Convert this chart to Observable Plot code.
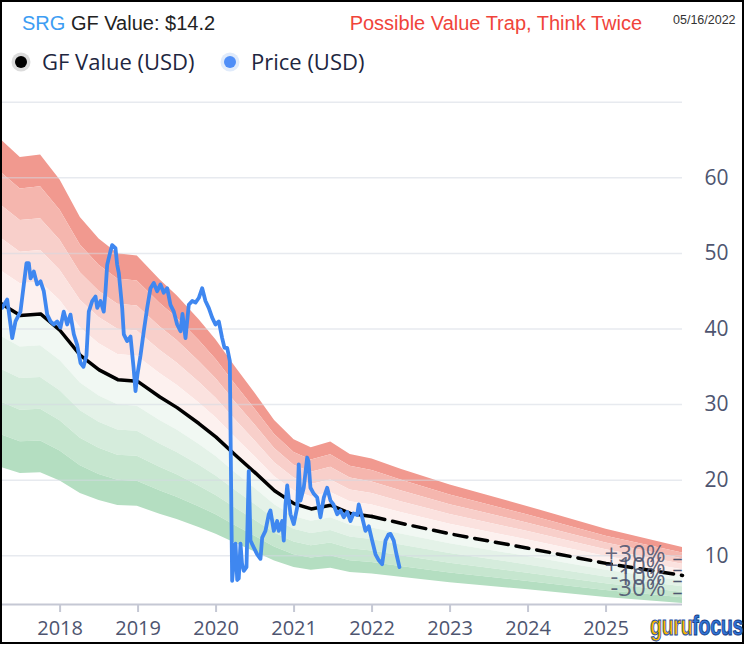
<!DOCTYPE html>
<html>
<head>
<meta charset="utf-8">
<script src="https://cdn.jsdelivr.net/npm/d3@7"></script>
<script src="https://cdn.jsdelivr.net/npm/@observablehq/plot@0.6"></script>
<style>
  body { margin: 0; background: #fff; }
  #wrap { position: relative; width: 746px; height: 650px; overflow: hidden; background: #fff; }
  #frame { position: absolute; left: 0; top: 0; width: 744px; height: 644px; border: 2px solid #000; box-sizing: border-box; pointer-events: none; z-index: 5; }
  .hdr { position: absolute; font-family: "Liberation Sans", Arial, sans-serif; white-space: nowrap; }
  #title { left: 22px; top: 13px; font-size: 20px; line-height: 20px; color: #222; }
  #title .tk { color: #3d9df3; }
  #trap { right: 104px; top: 13px; font-size: 20px; line-height: 20px; color: #f0443a; }
  #date { left: 673px; top: 14px; font-size: 12.5px; line-height: 12.5px; color: #333; }
  #legend { position: absolute; left: 0; top: 50px; font-family: "Open Sans", sans-serif; font-size: 22px; line-height: 22px; color: #1e2640; white-space: nowrap; }
  .li { position: absolute; top: 0; }
  .dot { position: absolute; width: 12px; height: 12px; border-radius: 50%; }
  #chart { position: absolute; left: 0; top: 90px; }
  #logo { position: absolute; left: 650px; top: 613px; font-family: "Liberation Sans", sans-serif; font-weight: bold; font-size: 27px; line-height: 27px; letter-spacing: -0.5px; z-index: 6; transform: scaleX(0.73); transform-origin: 0 0; white-space: nowrap; }
  #logo .g { color: #f7b500; -webkit-text-stroke: 1px #1d4fa8; }
  #logo .f { color: #2f74d8; -webkit-text-stroke: 1px #163d86; }
</style>
</head>
<body>
<div id="wrap">
  <div id="frame"></div>
  <div id="title" class="hdr"><span class="tk">SRG</span> GF Value: $14.2</div>
  <div id="trap" class="hdr">Possible Value Trap, Think Twice</div>
  <div id="date" class="hdr">05/16/2022</div>
  <div id="legend">
    <div class="dot" style="left:15px;top:6px;background:#000;box-shadow:0 0 0 3.5px #dcdcdc;"></div>
    <div class="li" style="left:42px;">GF Value (USD)</div>
    <div class="dot" style="left:224px;top:6px;background:#4f8ef7;box-shadow:0 0 0 3.5px #e0ebfb;"></div>
    <div class="li" style="left:251px;">Price (USD)</div>
  </div>
  <div id="chart"></div>
  <div id="logo"><span class="g">guru</span><span class="f">focus</span></div>
</div>
<script>
// ---- data (decimal years) ----
const gfValue = [
  [2017.236, 43.4], [2017.49, 41.8], [2017.75, 42.0], [2018.0, 39.8], [2018.26, 36.5],
  [2018.5, 34.6], [2018.74, 33.3], [2018.99, 33.1], [2019.28, 31.0], [2019.5, 29.6],
  [2019.78, 27.5], [2020.0, 25.7], [2020.25, 23.3], [2020.5, 21.0], [2020.75, 18.6],
  [2021.0, 16.9], [2021.22, 16.2], [2021.47, 16.7], [2021.72, 15.6], [2022.0, 15.2],
  [2022.37, 14.3], [2023.0, 12.9], [2024.0, 11.0], [2025.0, 9.0], [2025.98, 7.4]
];
const forecastStart = 2022.0;

const price = [
  [2017.258, 42.8], [2017.322, 43.9], [2017.364, 40.6], [2017.386, 38.8], [2017.428, 41.0],
  [2017.492, 42.3], [2017.535, 45.9], [2017.569, 48.7], [2017.599, 48.7], [2017.621, 46.7],
  [2017.663, 47.6], [2017.706, 45.9], [2017.749, 46.3], [2017.791, 45.0], [2017.835, 41.9],
  [2017.877, 41.0], [2017.919, 40.6], [2017.963, 41.0], [2018.005, 40.2], [2018.047, 42.3],
  [2018.091, 40.6], [2018.133, 41.9], [2018.176, 39.3], [2018.219, 37.9], [2018.262, 35.5],
  [2018.300, 35.0], [2018.338, 36.5], [2018.368, 42.3], [2018.412, 43.7], [2018.454, 44.3],
  [2018.476, 42.8], [2018.518, 43.7], [2018.560, 42.3], [2018.582, 45.0], [2018.604, 48.5],
  [2018.646, 50.3], [2018.668, 51.1], [2018.710, 50.7], [2018.732, 48.5], [2018.753, 47.4],
  [2018.796, 42.8], [2018.817, 39.3], [2018.860, 38.4], [2018.903, 39.0], [2018.941, 35.0],
  [2018.967, 31.8], [2018.992, 34.0], [2019.031, 36.5], [2019.073, 39.7], [2019.117, 42.8],
  [2019.159, 45.4], [2019.201, 46.1], [2019.245, 45.0], [2019.287, 45.9], [2019.329, 44.8],
  [2019.373, 45.4], [2019.415, 43.2], [2019.458, 42.3], [2019.501, 40.6], [2019.544, 39.7],
  [2019.569, 42.0], [2019.608, 38.8], [2019.650, 43.2], [2019.694, 43.7], [2019.736, 43.5],
  [2019.778, 44.1], [2019.822, 45.4], [2019.864, 43.7], [2019.906, 42.8], [2019.950, 41.5],
  [2019.992, 40.6], [2020.035, 41.0], [2020.078, 38.8], [2020.108, 37.5], [2020.142, 37.5],
  [2020.176, 35.8], [2020.197, 15.0], [2020.206, 6.7], [2020.229, 9.5], [2020.249, 11.6],
  [2020.271, 6.8], [2020.291, 7.0], [2020.313, 11.6], [2020.332, 9.0], [2020.355, 8.0],
  [2020.390, 8.5], [2020.419, 21.2], [2020.441, 12.0], [2020.483, 11.1], [2020.527, 10.2],
  [2020.569, 9.6], [2020.591, 12.4], [2020.633, 13.3], [2020.676, 15.5], [2020.697, 16.0],
  [2020.740, 13.3], [2020.783, 14.6], [2020.804, 13.3], [2020.847, 14.6], [2020.868, 12.0],
  [2020.890, 16.8], [2020.912, 19.3], [2020.954, 15.5], [2020.996, 14.2], [2021.040, 16.4],
  [2021.060, 22.1], [2021.082, 17.3], [2021.124, 19.0], [2021.168, 23.0], [2021.185, 22.5],
  [2021.210, 19.0], [2021.253, 18.2], [2021.296, 17.7], [2021.338, 15.1], [2021.381, 17.7],
  [2021.424, 19.0], [2021.467, 17.3], [2021.505, 16.8], [2021.553, 15.5], [2021.595, 16.0],
  [2021.637, 15.1], [2021.681, 15.8], [2021.723, 14.6], [2021.762, 15.6], [2021.809, 15.4],
  [2021.829, 16.8], [2021.873, 15.1], [2021.915, 13.3], [2021.958, 13.9], [2022.001, 12.0],
  [2022.044, 10.2], [2022.086, 9.4], [2022.129, 8.9], [2022.172, 12.0], [2022.210, 12.8],
  [2022.236, 12.9], [2022.278, 12.0], [2022.313, 10.2], [2022.351, 8.5]
];

const bandLevels = [1.5, 1.4, 1.3, 1.2, 1.1, 1.0, 0.9, 0.8, 0.7, 0.6, 0.5];
const bandColors = ["#f1998f", "#f5b6ae", "#f8cfca", "#fbe2df", "#fdf1ef",
                    "#f1f8f3", "#e4f2e8", "#d5ecdc", "#c6e6cf", "#b4dec1"];
const pctLabels = [["+30%", 1.3], ["+10%", 1.1], ["-10%", 0.9], ["-30%", 0.7]];
const yearTicks = [2018, 2019, 2020, 2021, 2022, 2023, 2024, 2025];
const yLabelTicks = [10, 20, 30, 40, 50, 60];
const yGridTicks = [10, 20, 30, 40, 50, 60, 70];
const xDomain = [2017.236, 2025.98];
const yDomain = [3.56, 70];

// ---- build ----
const gf = gfValue.map(([t, v]) => ({t, v}));
const bands = [];
for (let i = 0; i < bandColors.length; i++) {
  for (const d of gf) bands.push({t: d.t, lo: d.v * bandLevels[i + 1], hi: d.v * bandLevels[i], band: i});
}
const gfHist = gf.filter(d => d.t <= forecastStart);
const gfFut = gf.filter(d => d.t >= forecastStart);
const pr = price.map(([t, v]) => ({t, v}));
const last = gf[gf.length - 1];
const pct = pctLabels.map(([label, m]) => ({label, t: last.t, v: last.v * m}));

const axisColor = "#4e5570";
const chart = Plot.plot({
  width: 746,
  height: 560,
  marginLeft: 0,
  marginRight: 64,
  marginTop: 11.7,
  marginBottom: 46,
  style: {fontFamily: "'Open Sans', sans-serif", background: "transparent", overflow: "visible"},
  x: {domain: xDomain},
  y: {domain: yDomain},
  marks: [
    Plot.areaY(bands, {x: "t", y1: "lo", y2: "hi", z: "band", fill: d => bandColors[d.band]}),
    Plot.gridY(yGridTicks, {stroke: "#d3d9e2", strokeOpacity: 0.55, strokeWidth: 1.5}),
    Plot.ruleY([yDomain[0]], {stroke: "#c5c8d4", strokeWidth: 2}),
    Plot.axisX(yearTicks, {tickSize: 8, tickPadding: 8, tickFormat: d => String(d), stroke: "#c5c8d4", strokeWidth: 2, fill: axisColor, fontSize: 20, label: null}),
    Plot.axisY(yLabelTicks, {anchor: "right", tickSize: 0, tickPadding: 22, fill: axisColor, fontSize: 21, label: null}),
    Plot.lineY(gfHist, {x: "t", y: "v", stroke: "#000", strokeWidth: 3.5, strokeLinejoin: "round"}),
    Plot.lineY(gfFut, {x: "t", y: "v", stroke: "#000", strokeWidth: 3.5, strokeDasharray: "13,8"}),
    Plot.lineY(pr, {x: "t", y: "v", stroke: "#3f87f0", strokeWidth: 3.8, strokeLinejoin: "round"}),
    Plot.text(pct, {x: "t", y: "v", text: "label", textAnchor: "end", dx: -17, dy: -4, fontSize: 24, fill: axisColor, fillOpacity: 0.9}),
    Plot.text(pct, {x: "t", y: "v", text: d => "–", textAnchor: "end", dx: 0, fontSize: 20, fill: axisColor})
  ]
});
document.getElementById("chart").appendChild(chart);
</script>
</body>
</html>
